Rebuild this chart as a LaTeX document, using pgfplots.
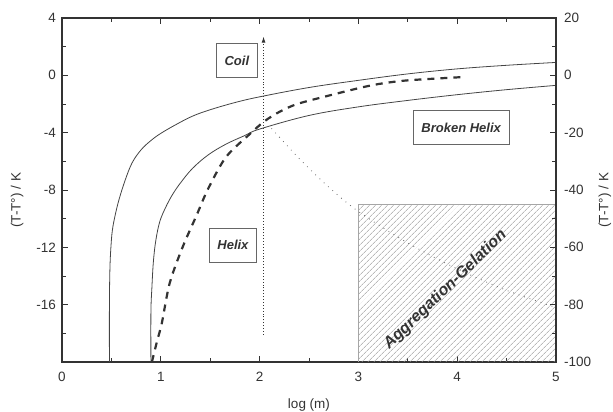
\documentclass[border=0pt]{standalone}
\usepackage{fontspec}
\setmainfont{Liberation Sans}
\usepackage{pgfplots}
\pgfplotsset{compat=1.18}
\usetikzlibrary{patterns.meta, arrows.meta}
\definecolor{ink}{HTML}{333333}
\definecolor{curve}{HTML}{444444}

\pgfplotstableread{
x y
0.48 -20
0.48 -16
0.485 -13.5
0.495 -12
0.51 -10.8
0.54 -9.7
0.58 -8.6
0.64 -7.3
0.71 -6.1
0.80 -5.2
0.90 -4.55
1.00 -4.05
1.15 -3.45
1.32 -2.85
1.50 -2.4
1.75 -1.9
2.00 -1.5
2.50 -0.85
3.00 -0.35
3.50 0.1
4.00 0.45
4.50 0.7
5.00 0.9
}\outer

\pgfplotstableread{
x y
0.90 -20
0.90 -16.5
0.91 -14.8
0.925 -13.0
0.95 -11.5
0.99 -10.2
1.05 -9.2
1.12 -8.3
1.20 -7.5
1.32 -6.5
1.48 -5.55
1.66 -4.8
1.85 -4.2
2.00 -3.75
2.50 -2.8
3.00 -2.2
3.50 -1.75
4.00 -1.35
4.50 -1.0
5.00 -0.7
}\inner

\pgfplotstableread{
x y
0.91 -20
0.96 -18.6
1.01 -17.3
1.09 -14.5
1.22 -12.0
1.36 -9.8
1.48 -7.9
1.66 -5.7
1.90 -4.1
2.05 -3.2
2.20 -2.55
2.38 -2.0
2.68 -1.45
3.00 -0.9
3.21 -0.6
3.50 -0.35
4.06 -0.12
}\dashedcurve

\pgfplotstableread{
x y
2.12 -3.7
2.40 -5.8
2.70 -7.8
3.00 -9.5
3.50 -11.7
4.00 -13.5
4.50 -15.0
5.00 -16.2
}\diag

\begin{document}
\begin{tikzpicture}[
  box/.style={draw=gray!80!black, line width=0.6pt, fill=white,
    font=\fontsize{13}{15}\selectfont\bfseries\itshape,
    minimum height=34pt, inner xsep=8pt, text=ink}]
\path[use as bounding box] (-62pt,-50pt) rectangle (551pt,362pt);
\begin{axis}[
  at={(0,0)}, anchor=south west,
  scale only axis, width=494pt, height=344pt,
  xmin=0, xmax=5, ymin=-20, ymax=4,
  xtick={0,...,5}, minor xtick={0.5,1.5,...,4.5},
  ytick={-16,-12,...,4}, minor ytick={-18,-14,...,2},
  xtick pos=both, xticklabel pos=bottom, ytick pos=left,
  tick align=inside,
  major tick length=6pt, minor tick length=4pt,
  axis line style={ink, line width=1.1pt},
  every tick/.style={ink, line width=0.9pt},
  font=\fontsize{13.5}{16}\selectfont,
  tick label style={text=ink},
  /pgf/number format/assume math mode=true,
  xticklabel style={yshift=-7pt},
  yticklabel style={xshift=-2.5pt},
  xlabel={log (m)}, ylabel={(T-T°) / K},
  label style={text=ink},
  xlabel style={at={(axis description cs:0.5,0)}, anchor=center, yshift=-43pt},
  ylabel style={at={(axis description cs:-0.091,0.47)}, anchor=center},
]
\addplot[draw=gray!70, line width=0.5pt,
  pattern={Lines[angle=45,distance=4pt,line width=0.5pt]}, pattern color=gray!85]
  coordinates {(3,-20) (5,-20) (5,-9) (3,-9)} -- cycle;
\addplot[curve, line width=0.8pt, smooth, tension=0.6] table {\outer};
\addplot[curve, line width=0.8pt, smooth, tension=0.6] table {\inner};
\addplot[ink, line width=2.2pt, smooth, tension=0.5, dash pattern=on 7pt off 6pt] table {\dashedcurve};
\addplot[gray!80!black, line width=0.8pt, dash pattern=on 0.8pt off 5pt, smooth] table {\diag};
\addplot[ink, line width=0.8pt, dash pattern=on 0.9pt off 2pt, -{Latex[length=6pt,width=4pt]}]
  coordinates {(2.04,-18.1) (2.04,2.7)};
\node[box] at (axis cs:1.77,1.03) {Coil};
\node[box] at (axis cs:1.73,-11.84) {Helix};
\node[box] at (axis cs:4.04,-3.64) {Broken Helix};
\node[rotate=44, font=\fontsize{16}{18}\selectfont\bfseries\itshape, text=ink]
  at (axis cs:3.88,-14.98) {Aggregation-Gelation};
\end{axis}
\begin{axis}[
  at={(0,0)}, anchor=south west,
  scale only axis, width=494pt, height=344pt,
  xmin=0, xmax=5, ymin=-100, ymax=20,
  hide x axis,
  ytick={-100,-80,...,20}, minor ytick={-90,-70,...,10},
  ytick pos=right, yticklabel pos=right,
  tick align=inside,
  major tick length=6pt, minor tick length=4pt,
  axis line style={ink, line width=1.1pt},
  every tick/.style={ink, line width=0.9pt},
  font=\fontsize{13.5}{16}\selectfont,
  tick label style={text=ink},
  /pgf/number format/assume math mode=true,
  yticklabel style={xshift=4.5pt},
  ylabel={(T-T°) / K},
  label style={text=ink},
  ylabel style={at={(axis description cs:1.099,0.47)}, anchor=center, rotate=0},
]
\end{axis}
\end{tikzpicture}
\end{document}
